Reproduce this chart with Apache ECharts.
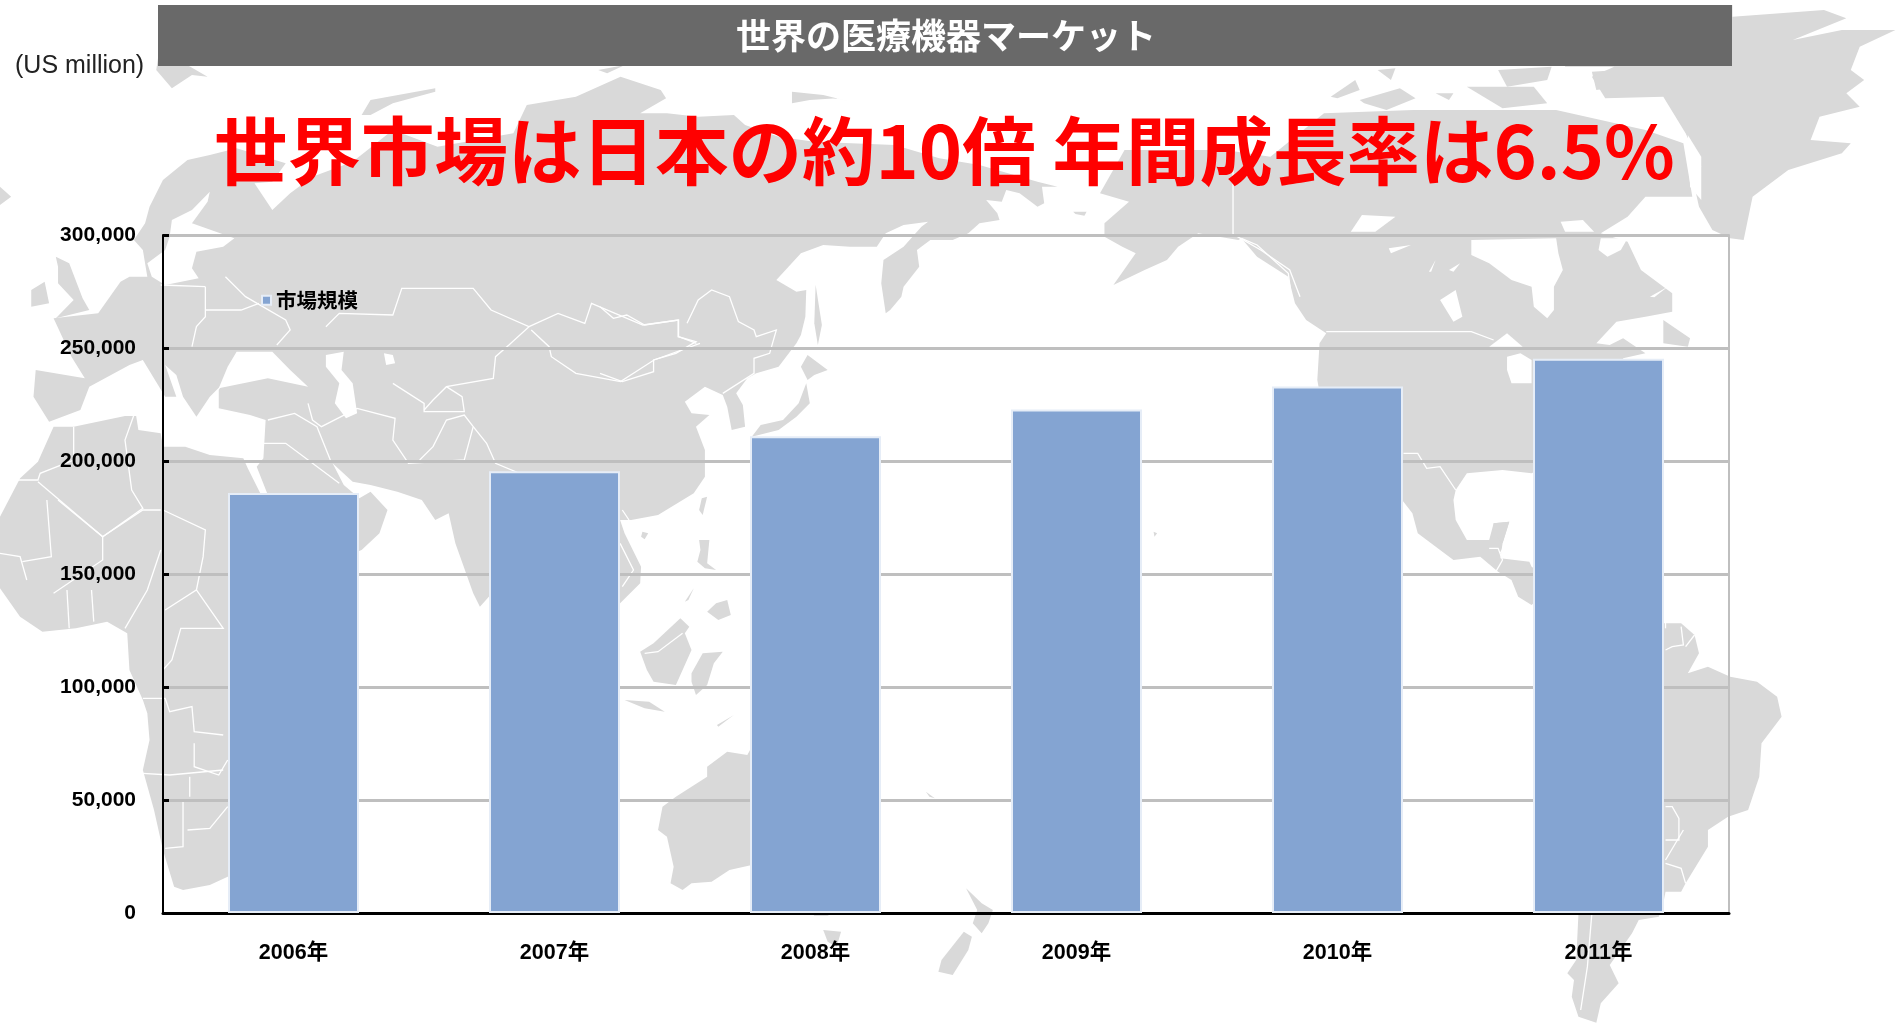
<!DOCTYPE html>
<html><head><meta charset="utf-8">
<style>html,body{margin:0;padding:0;background:#fff}#c{width:1899px;height:1025px}</style>
<script src="https://cdn.jsdelivr.net/npm/echarts@6/dist/echarts.min.js"></script>
</head><body><div id="c"></div>
<script>
const categories = ['2006年','2007年','2008年','2009年','2010年','2011年'];
const marketValues = [185800,195500,211000,222800,233000,245200];
const seriesName = '市場規模';
const bannerText = '世界の医療機器マーケット';
const headlineText = '世界市場は日本の約10倍 年間成長率は6.5%';
const unitText = '(US million)';

// Decorative world map behind the chart, traced per crop tile.
const T = {A:[0,50],B:[0,500],C:[600,50],D:[600,500],E:[1199,0],F:[1199,500]};
function P(parts){ const o=[]; for(let i=0;i<parts.length;i+=2){ const t=T[parts[i]],a=parts[i+1];
  for(let j=0;j<a.length;j+=2) o.push([t[0]+a[j]/2.24,t[1]+a[j+1]/3]); } return o; }
const land = [
 // Eurasia
 ['A',[325,520,335,470,365,390,420,330,470,315,530,295,640,340,610,395,570,400,610,480,650,430,700,380,790,335,880,240,980,290,1150,250,1180,165,1290,140,1390,80,1480,120],
  'C',[148,145,90,190,150,190,220,200,300,195,325,225,400,260,480,275,660,285,760,325,850,345,980,395,1025,410,990,410,995,460,980,470,940,430,910,420,900,455,865,450,890,490,895,510,850,520,825,550,790,570,740,570,710,600,715,650,680,710,675,740,650,780,640,790,630,700,635,630,680,590,720,530,735,515,710,520,680,525,640,550,620,590,560,590,500,585,450,610,395,690,440,725,462,720,460,800,450,855,440,880,400,950,350,970,330,985,305,1030,320,1065,325,1130,295,1140,285,1070,275,1035,235,1010,190,1055,205,1090,245,1095,215,1130,235,1200,235,1280,210,1330,130,1395,70,1410],
  'D',[45,60,55,100,92,200,90,250,45,310,20,310],
  'B',[1200,320,1095,290,1075,320,1060,280,1020,130,1005,40,975,60,945,0],
  'A',[890,1325,830,1305,790,1295,745,1240,770,1305,805,1345,830,1325,868,1380,850,1450,810,1500,700,1560,600,1430,600,1335,575,1250,590,1225,595,1110,560,1095,490,1075,490,1020,500,1000,470,1040,440,1100,410,1040,395,975,370,945,395,1040,370,1040,320,930,290,945,200,1010,180,1080,110,1115,75,1040,80,960,190,985,160,920,120,805,220,790,270,695,290,680,330,680,320,600,300,570]],
 // Africa
 ['A',[120,1130,165,1130,280,1098,305,1098,310,1140,360,1150,365,1190,415,1190,470,1215,545,1225,555,1255,585,1335],
  'B',[600,300,600,1100,510,1130,470,1155,410,1170,390,1160,365,1050,345,930,320,810,335,720,330,640,320,600,290,510,285,400,240,365,170,385,95,395,45,350,0,265,0,160],
  'A',[0,1400,45,1285,85,1235]],
 // Islands of Europe and Arctic Asia
 ['A',[125,620,155,640,185,745,200,780,125,805,165,750,130,700,130,650]],
 ['A',[70,720,100,695,110,760,70,770]],
 ['A',[0,410,25,440,0,465]],
 ['A',[355,15,400,30,465,80,430,75,385,115,350,60]],
 ['A',[810,195,830,150,975,115,975,125,880,160,830,195]],
 ['A',[1340,60,1400,45,1360,70]],
 ['C',[430,125,500,135,575,160,530,145,470,150,430,160]],
 ['C',[1060,485,1090,485,1085,497,1065,492]],
 // Japan, Sakhalin, Taiwan
 ['C',[483,705,497,825,488,885,480,820]],
 ['C',[465,915,510,960,480,975,465,990,450,950]],
 ['C',[462,1000,470,1060,440,1100,400,1140,340,1160,360,1125,410,1110,445,1060]],
 ['C',[228,1345,240,1340,230,1395,222,1380]],
 // South East Asia
 ['D',[95,95,108,100,100,118,92,110]],
 ['D',[222,120,245,120,240,190,260,210,235,205,218,185,225,150]],
 ['D',[240,335,260,310,285,300,293,345,265,360]],
 ['D',[90,455,120,430,180,355,200,380,190,400,205,450,170,555,120,545,105,510]],
 ['D',[205,520,230,460,275,455,255,490,240,555,215,585,205,545]],
 ['D',[55,600,110,605,145,635,100,625]],
 ['D',[262,675,300,645,290,655,265,680]],
 ['D',[190,305,210,265,198,300]],
 // Australia, Tasmania, New Zealand
 ['D',[340,740,340,1095,290,1110,250,1145,205,1150,185,1170,158,1150,165,1100,150,1010,130,990,140,920,170,890,240,830,240,800,285,755,330,765]],
 ['D',[475,1240,520,1240,510,1247,480,1247]],
 ['D',[500,1290,540,1295,530,1340,510,1325]],
 ['D',[820,1165,855,1210,880,1230,870,1270,855,1300,835,1270,845,1230]],
 ['D',[815,1295,833,1310,825,1350,790,1425,758,1415,765,1380]],
 // Pacific specks
 ['D',[1240,95,1248,100,1242,110]],
 ['D',[730,875,750,895,738,890]],
 // North America
 ['C',[1130,560,1130,520,1185,455,1120,430,1175,300,1400,300],
  'E',[160,470,280,340,480,330,800,330,1000,390,1085,430,1105,590,1000,590,960,650,900,700,960,725,990,810,1060,880,1060,935,1000,950,935,965,890,1030,920,1035,950,1015,1000,1060,950,1075,950,1300,745,1420,680,1410,600,1420,575,1470],
  'F',[570,0,575,60,600,120,650,120,660,70,695,65,680,130,675,175,740,185,745,200,800,250,745,315,715,290,700,240,670,215,630,170,570,180,490,100,478,40,455,0],
  'E',[300,1400,265,1140,270,1030,285,1000,240,960,215,910,200,830,130,770,95,715],
  'C',[1430,570,1340,550,1295,590,1270,630,1220,660,1150,705,1200,610,1170,590]],
 // Canadian Arctic islands
 ['E',[295,290,350,240,360,270,310,295]],
 ['E',[360,300,450,265,485,295,420,330,370,310]],
 ['E',[400,210,440,205,430,240]],
 ['E',[600,260,750,260,780,310,680,325]],
 ['E',[670,210,790,200,780,240,690,260]],
 ['E',[880,215,940,210,940,260,890,270]],
 ['E',[530,280,570,280,560,300]],
 ['E',[1040,960,1100,1015,1095,1040,1040,1030]],
 // Greenland
 ['E',[820,15,1195,15,1195,50,1400,30,1450,55,1330,120,1440,90,1560,90,1480,140,1460,210,1490,240,1450,280,1480,320,1390,350,1370,420,1460,430,1440,460,1320,510,1240,590,1220,720,1190,715,1150,690,1120,620,1110,560,1125,500,1090,400,1040,290,910,295,880,230,930,200,820,200]],
 // South America
 ['F',[1040,370,1080,370,1110,405,1120,460,1095,520,1140,500,1190,530,1250,545,1295,590,1305,650,1260,730,1255,830,1230,930,1185,950,1140,990,1140,1040,1090,1150,1080,1175,1045,1175,1040,1210,1030,1250,985,1260,970,1300,920,1395,940,1450,900,1510,890,1568,850,1550,835,1490,840,1440,825,1420,845,1380,850,1240,860,1225,800,900,800,400]],
 ['F',[660,70,695,65,680,130,660,100]]
];
const water = [
 ['A',[385,510,430,480,470,425,465,455,430,520,525,565,500,590,440,605,430,655,445,685,370,705,340,680,330,640,370,600,380,560]],
 ['A',[530,905,610,905,650,960,690,1010,600,985,490,1015,510,950]],
 ['A',[730,915,770,905,765,960,790,1000,800,1090,775,1105,750,1060,760,1000,730,950]],
 ['A',[860,910,880,915,885,940,865,945]],
 ['A',[285,965,295,965,292,1010,283,1010]],
 ['E',[610,720,800,715,805,760,815,810,795,860,795,930,780,955,750,920,745,860,700,840,650,790,610,765]],
 ['E',[900,715,960,715,945,750,915,770,895,750]],
 ['E',[690,1070,720,1060,745,1080,745,1150,700,1150,690,1110]],
 ['E',[650,1040,690,1000,725,1040]],
 ['E',[540,900,575,870,590,950,570,965]],
 ['E',[425,745,475,735,430,760]],
 ['E',[515,815,530,780,520,815]],
 ['E',[560,810,585,790,570,815]],
 ['E',[340,695,365,645,440,650,395,695]],
 ['E',[1095,405,1125,470,1125,600,1100,560]],
 ['E',[810,665,860,660,885,695,820,695]],
 ['E',[1010,890,1050,860,1020,892]]
];
const borders = [
 ['A',[505,680,550,740,640,810,650,840,620,885]],
 ['A',[460,710,460,800,440,830,430,890]],
 ['A',[360,705,460,710]],
 ['A',[460,780,540,780,580,760]],
 ['A',[730,830,760,790,880,795,900,715,1060,715,1100,780,1185,830,1140,885,1110,920,1105,985,1000,1010,970,1050,950,1080]],
 ['A',[1185,830,1250,790,1310,820,1325,760,1440,825,1520,810,1520,860,1560,880]],
 ['A',[1190,840,1230,890,1235,920,1290,970,1390,995,1465,930,1568,880]],
 ['A',[880,1000,950,1060,950,1085,1040,1085,1035,1040,1000,1010]],
 ['A',[690,1060,700,1110,720,1130,800,1075,885,1105,880,1170,915,1240,1040,1230,1060,1130,1040,1095,1000,1110,970,1190,940,1230]],
 ['A',[1060,1130,1090,1180,1110,1240,1200,1290,1250,1300]],
 ['A',[600,1110,660,1090,710,1130,740,1230]],
 ['A',[590,1180,640,1180,700,1240,760,1300]],
 ['C',[0,770,30,805,60,795,100,825,175,810,175,860,215,875,170,910,120,930,120,965,50,995,0,970]],
 ['C',[195,820,220,750,250,720,290,740,310,815,345,840,350,860,395,840,380,910,345,925,345,970,275,1030]],
 ['C',[1418,310,1418,552,1480,600,1545,660,1568,740]],
 ['A',[165,1130,165,1230,90,1270,85,1290,0,1290]],
 ['A',[85,1295,230,1460]],
 ['A',[300,1095,280,1170,295,1320,320,1375,230,1460]],
 ['B',[105,0,115,170,50,185]],
 ['B',[0,160,45,170,60,240]],
 ['B',[130,0,230,110,230,180,120,280]],
 ['B',[230,110,320,30,360,30]],
 ['B',[365,30,460,90,455,170,440,270]],
 ['B',[370,330,440,270,500,385,405,385,385,480,365,510]],
 ['B',[360,150,330,270,280,385]],
 ['B',[320,595,370,595,380,635,430,620,435,695,500,705]],
 ['B',[435,730,435,800,490,825,510,780]],
 ['B',[320,820,380,825,500,810]],
 ['B',[425,830,425,890]],
 ['B',[410,905,410,1040,370,1045]],
 ['B',[420,990,470,985,510,920]],
 ['B',[150,270,155,385]],
 ['B',[205,270,210,365]],
 ['D',[50,30,65,60]],
 ['D',[45,130,75,210,50,260]],
 ['D',[100,460,130,455,185,400]],
 ['E',[285,995,610,995,660,1020]],
 ['E',[458,1360,490,1360,510,1405,540,1400,575,1470]],
 ['E',[95,715,130,735,200,820,205,870]],
 ['F',[650,145,670,145,680,180]],
 ['F',[680,180,665,215]],
 ['F',[690,125,675,160]],
 ['F',[1045,365,1045,385]],
 ['F',[1080,380,1085,435,1060,440,1045,450]],
 ['F',[1110,405,1090,440]],
 ['F',[1045,920,1060,920,1075,955,1075,1020,1045,1020]],
 ['F',[1085,990,1045,1080]],
 ['F',[1045,1090,1080,1105,1090,1150]],
 ['F',[880,1240,870,1400,855,1530]]
];
const mapGraphic = [
 ...land.map(p=>({type:'polygon',z:-100,silent:true,shape:{points:P(p)},style:{fill:'#d9d9d9'}})),
 ...water.map(p=>({type:'polygon',z:-99,silent:true,shape:{points:P(p)},style:{fill:'#fff'}})),
 ...borders.map(p=>({type:'polyline',z:-98,silent:true,shape:{points:P(p)},style:{stroke:'#fff',lineWidth:1.3,fill:null}}))
];

const latin = '"Liberation Sans","Noto Sans CJK JP",sans-serif';
const cjk = '"Noto Sans CJK JP",sans-serif';
const chart = echarts.init(document.getElementById('c'),null,{renderer:'canvas'});
chart.setOption({
 animation:false,
 backgroundColor:'#fff',
 title:{text:headlineText,left:214,top:114,padding:0,itemGap:0,
  textStyle:{color:'#ff0000',fontFamily:cjk,fontWeight:'bold',fontSize:73.5}},
 legend:{data:[{name:seriesName,icon:'rect'}],left:261,top:290,padding:0,itemWidth:9,itemHeight:9,itemGap:0,
  textStyle:{color:'#000',fontFamily:cjk,fontWeight:'bold',fontSize:20.5,padding:[0,0,0,0]}},
 grid:{left:163,right:170,top:235,bottom:112,containLabel:false},
 xAxis:{type:'category',data:categories,
  axisLine:{lineStyle:{color:'#000',width:3}},axisTick:{show:false},
  axisLabel:{color:'#000',fontFamily:latin,fontWeight:'bold',fontSize:21.5,margin:29}},
 yAxis:[{type:'value',min:0,max:300000,interval:50000,
  axisLine:{show:true,lineStyle:{color:'#000',width:2}},
  axisTick:{show:true,inside:true,length:6,lineStyle:{color:'#000',width:3}},
  splitLine:{show:true,lineStyle:{color:'#bfbfbf',width:3}},
  axisLabel:{color:'#000',fontFamily:latin,fontWeight:'bold',fontSize:21,margin:27,padding:[2,0,0,0],
   formatter:v=>v.toLocaleString('en-US')}},
  {type:'value',min:0,max:300000,interval:50000,position:'right',
   axisLine:{show:true,lineStyle:{color:'#bfbfbf',width:2}},axisTick:{show:false},axisLabel:{show:false},splitLine:{show:false}}],
 series:[{name:seriesName,type:'bar',data:marketValues,barWidth:131,
  itemStyle:{color:'#84a4d2',borderColor:'#e6edf7',borderWidth:2}}],
 graphic:[...mapGraphic,
  {type:'rect',z:5,shape:{x:158,y:5,width:1574,height:61},style:{fill:'#696969'}},
  {type:'text',z:6,style:{text:bannerText,x:946,y:36,align:'center',verticalAlign:'middle',fill:'#fff',font:'bold 35px '+cjk}},
  {type:'text',z:6,style:{text:unitText,x:15,y:66,align:'left',verticalAlign:'middle',fill:'#222',font:'25px '+latin}}
 ]
});
</script></body></html>
